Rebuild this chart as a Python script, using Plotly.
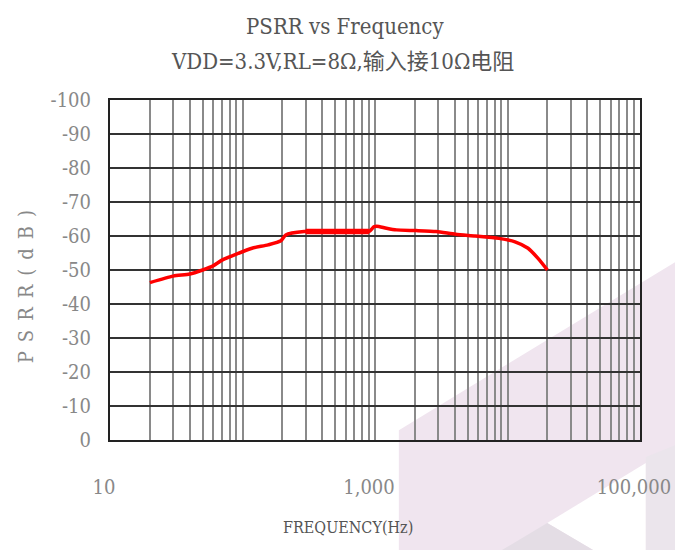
import plotly.graph_objects as go

# PSRR curve (Hz, dB)
freq = [20, 30, 40, 50, 60, 70, 90, 118, 156, 195, 212, 292, 500, 900, 980,
        1030, 1220, 1450, 2050, 2900, 4060, 5700, 8600, 11400, 14300, 17000, 20000]
psrr = [-46.3, -48.2, -48.8, -50.0, -51.2, -52.9, -54.7, -56.4, -57.4, -58.6, -60.3, -61.3, -61.3, -61.3, -62.7,
        -62.9, -62.3, -61.8, -61.6, -61.3, -60.5, -60.0, -59.3, -58.3, -56.4, -53.4, -50.0]

# the flat section drawn heavier in the original
flat_freq = [300, 500, 900]
flat_psrr = [-61.3, -61.3, -61.3]

x_grid = [d * 10 ** e for e in range(1, 5) for d in range(1, 10)] + [100000]
x_labels = {10: "10", 1000: "1,000", 100000: "100,000"}
y_ticks = list(range(0, -101, -10))

FONT = "DejaVu Serif Condensed, Liberation Mono, Noto Sans CJK SC, monospace"

fig = go.Figure()
fig.add_trace(go.Scatter(x=freq, y=psrr, mode="lines",
                         line=dict(color="#ff0000", width=3.5, shape="spline", smoothing=0.6),
                         showlegend=False))
fig.add_trace(go.Scatter(x=flat_freq, y=flat_psrr, mode="lines",
                         line=dict(color="#ff0000", width=5.5), showlegend=False))

fig.update_xaxes(type="log", range=[1, 5],
                 tickvals=x_grid, ticktext=[x_labels.get(v, "") for v in x_grid],
                 ticks="", showgrid=True, gridcolor="#8a8a8a", gridwidth=2,
                 showline=True, linecolor="#222", linewidth=2, mirror=True,
                 zeroline=False, ticklabelstandoff=28, ticklabelshift=-6,
                 tickfont=dict(family=FONT, size=20, color="#888"))
fig.update_yaxes(range=[0, -100], tickvals=y_ticks, ticktext=[str(v) for v in y_ticks],
                 ticks="", showgrid=True, gridcolor="#333", gridwidth=2,
                 showline=True, linecolor="#222", linewidth=2, mirror=True,
                 zeroline=False, ticklabelstandoff=13,
                 tickfont=dict(family=FONT, size=20, color="#888"))

# faint watermark in the lower right corner (paper units)
wm = [
    ("M 0.545 -0.324 L 0.545 0.029 L 1.067 0.524 L 1.067 -0.324 Z", "#f0e5ef"),
    ("M 0.825 -0.244 L 1.011 -0.068 L 1.011 -0.324 L 0.912 -0.324 Z", "#ffffff"),
    ("M 1.011 -0.050 L 1.067 -0.015 L 1.067 -0.324 L 1.011 -0.324 Z", "#ebe5ec"),
    ("M 0.739 -0.324 L 0.825 -0.244 L 0.912 -0.324 Z", "#e4dde5"),
]
for path, col in wm:
    fig.add_shape(type="path", path=path, xref="paper", yref="paper",
                  fillcolor=col, line=dict(width=0), layer="below")

txt = dict(xref="paper", yref="paper", showarrow=False, xanchor="center", yanchor="middle")
fig.add_annotation(text="PSRR vs Frequency", x=0.443, y=1.215,
                   font=dict(family=FONT, size=22, color="#555"), **txt)
fig.add_annotation(text="VDD=3.3V,RL=8Ω,输入接10Ω电阻", x=0.438, y=1.112,
                   font=dict(family=FONT, size=22, color="#555"), **txt)
fig.add_annotation(text="\u2002".join("PSRR(dB)"), x=-0.158, y=0.45, textangle=-90,
                   font=dict(family=FONT, size=20, color="#888"), **txt)
fig.add_annotation(text="FREQUENCY(Hz)", x=0.449, y=-0.256,
                   font=dict(family=FONT, size=16, color="#555"), **txt)

# the page adds an 8px body margin, so the figure is drawn 8px smaller
fig.update_layout(width=675, height=542,
                  margin=dict(l=102, r=36, t=92, b=110),
                  paper_bgcolor="white", plot_bgcolor="rgba(0,0,0,0)")

fig.write_html("out.html")
